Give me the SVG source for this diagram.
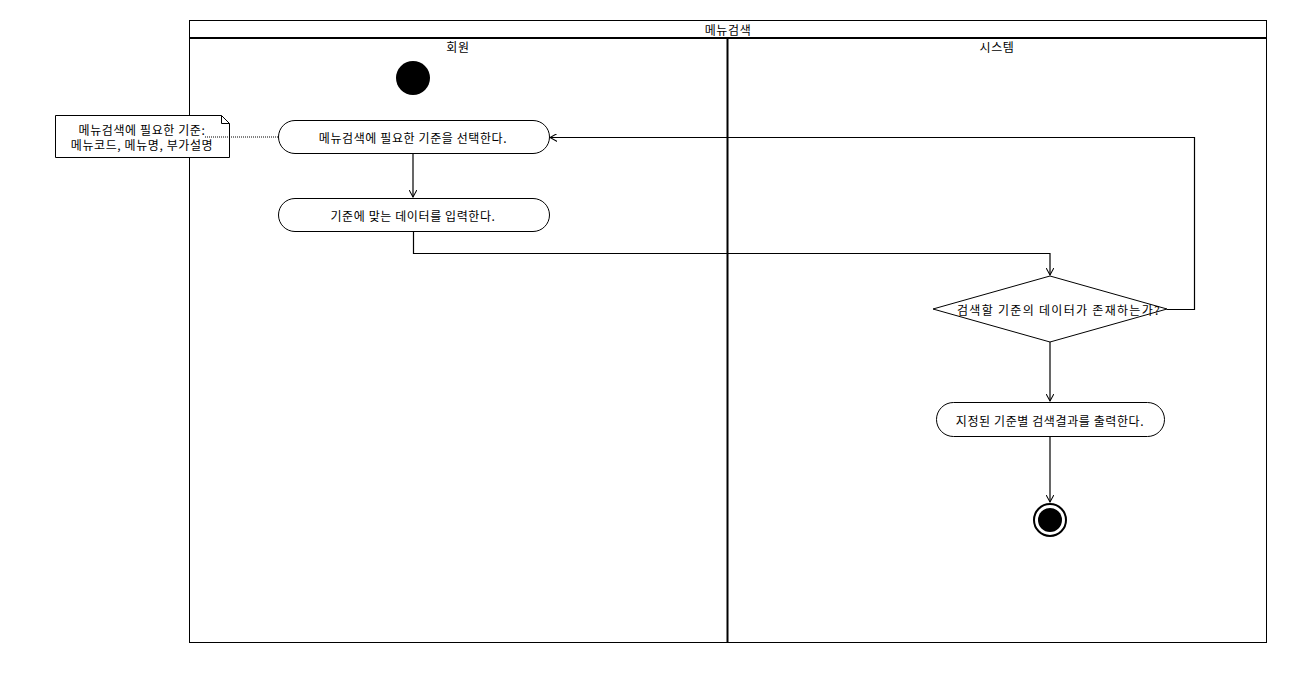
<svg xmlns="http://www.w3.org/2000/svg" width="1316" height="675" viewBox="0 0 1316 675">
<style>
text{font-family:"Noto Sans CJK KR","Liberation Sans",sans-serif;font-size:12px;letter-spacing:0.6px;fill:#000;text-anchor:middle;dominant-baseline:central}
.wide{letter-spacing:1.3px}
.act{fill:#fff;stroke:#000;stroke-width:1}
.ln{fill:none;stroke:#000;stroke-width:1.2}
</style>
<defs>
<marker id="ah" viewBox="0 0 10 10" refX="9" refY="5" markerWidth="8" markerHeight="8" orient="auto" markerUnits="userSpaceOnUse">
<path d="M0,0 L9,5 L0,10" fill="none" stroke="#000" stroke-width="1.3"/>
</marker>
</defs>
<rect width="1316" height="675" fill="#fff"/>
<g id="pool">
<rect x="189.5" y="20.5" width="1077" height="622" fill="none" stroke="#000" stroke-width="1"/>
<line x1="189" y1="38" x2="1267" y2="38" stroke="#000" stroke-width="2"/>
<line x1="727.5" y1="38" x2="727.5" y2="643" stroke="#000" stroke-width="2"/>
<text x="728" y="29">메뉴검색</text>
<text x="458" y="46">회원</text>
<text x="997" y="46">시스템</text>
</g>
<g id="start"><circle cx="413" cy="78" r="17" fill="#000"/></g>
<g id="note">
<path d="M55.5,115.5 H221.5 L229.5,123.5 V157.5 H55.5 Z" fill="#fff" stroke="#000" stroke-width="1"/>
<path d="M221.5,115.5 V123.5 H229.5" fill="none" stroke="#000" stroke-width="1"/>
<text x="142" y="129">메뉴검색에 필요한 기준:</text>
<text x="142" y="144">메뉴코드, 메뉴명, 부가설명</text>
</g>
<g id="a1">
<rect class="act" x="278.5" y="120.5" width="271" height="33" rx="16.5"/>
<text x="413" y="137">메뉴검색에 필요한 기준을 선택한다.</text>
</g>
<g id="a2">
<rect class="act" x="278.5" y="198.5" width="271" height="33" rx="16.5"/>
<text x="413" y="215">기준에 맞는 데이터를 입력한다.</text>
</g>
<g id="d1">
<path d="M1050,276 L1167,309 L1050,342 L933,309 Z" fill="#fff" stroke="#000" stroke-width="1"/>
<text class="wide" x="1059" y="309">검색할 기준의 데이터가 존재하는가?</text>
</g>
<g id="a3">
<rect class="act" x="936.5" y="402.5" width="228" height="34" rx="17"/>
<text x="1050" y="420">지정된 기준별 검색결과를 출력한다.</text>
</g>
<g id="end">
<circle cx="1050" cy="520" r="16" fill="#fff" stroke="#000" stroke-width="2"/>
<circle cx="1050" cy="520" r="12" fill="#000"/>
</g>
<g id="connectors">
<line x1="205" y1="137" x2="278" y2="137" stroke="#000" stroke-width="1" stroke-dasharray="1,1"/>
<path class="ln" d="M413,154 V197" marker-end="url(#ah)"/>
<path class="ln" d="M413.5,232 V253.5 H1050 V275" marker-end="url(#ah)"/>
<path class="ln" d="M1167,309.5 H1194.5 V137.5 H550" marker-end="url(#ah)"/>
<path class="ln" d="M1050,342 V401" marker-end="url(#ah)"/>
<path class="ln" d="M1050,437 V502" marker-end="url(#ah)"/>
</g>
</svg>
